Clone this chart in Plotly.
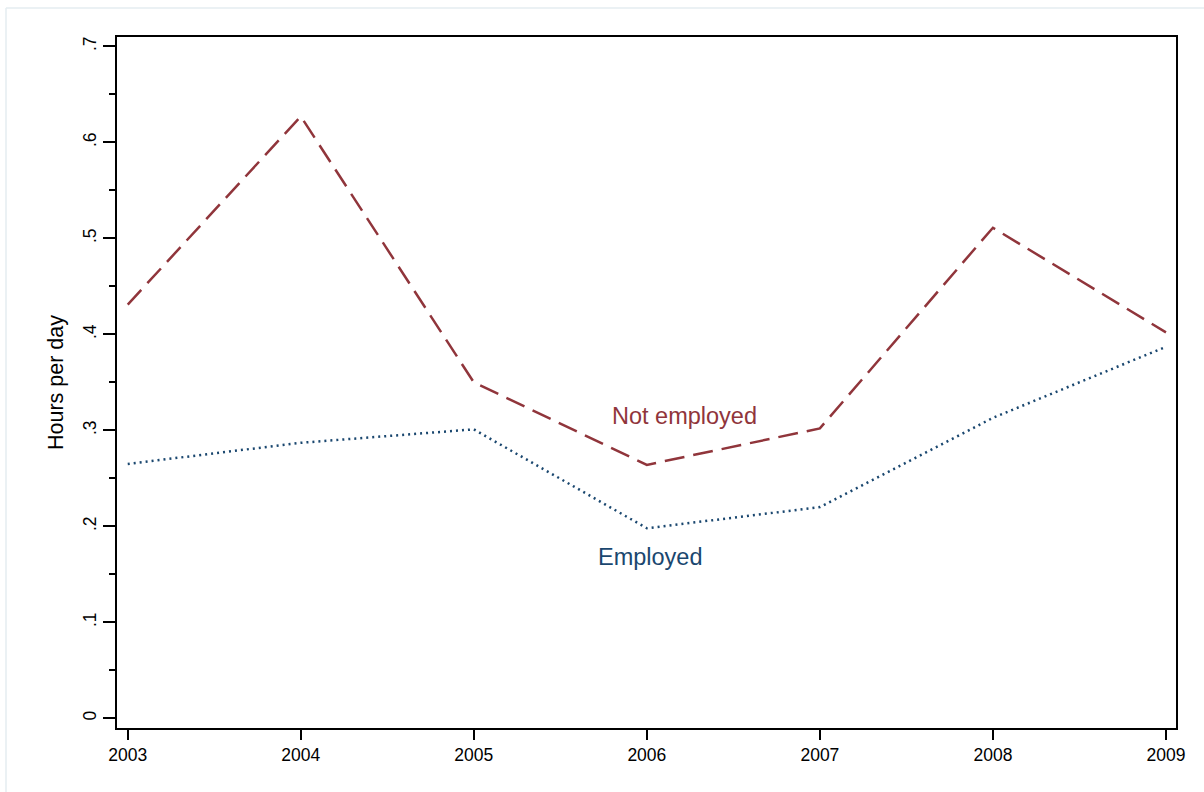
import plotly.graph_objects as go

years = [2003, 2004, 2005, 2006, 2007, 2008, 2009]
not_employed = [0.431, 0.627, 0.350, 0.264, 0.302, 0.511, 0.402]
employed = [0.265, 0.287, 0.301, 0.198, 0.220, 0.313, 0.387]

y_tickvals = [0, 0.1, 0.2, 0.3, 0.4, 0.5, 0.6, 0.7]
y_ticktext = ["0", ".1", ".2", ".3", ".4", ".5", ".6", ".7"]

maroon = "#90353b"
navy = "#1a476f"

fig = go.Figure()
fig.add_trace(go.Scatter(
    x=years, y=not_employed, mode="lines", name="Not employed",
    line=dict(color=maroon, width=2.5, dash="20px,9px"),
))
fig.add_trace(go.Scatter(
    x=years, y=employed, mode="lines", name="Employed",
    line=dict(color=navy, width=2.5, dash="2px,4px"),
))

fig.add_annotation(x=2006.22, y=0.315, text="Not employed", showarrow=False,
                   font=dict(size=23.5, color=maroon))
fig.add_annotation(x=2006.02, y=0.168, text="Employed", showarrow=False,
                   font=dict(size=23.5, color=navy))

# faint outer frame
frame = "#e4edf0"
fig.add_shape(type="line", xref="paper", yref="paper",
              x0=(6 - 117) / 1059, x1=1.1, y0=1 + (37 - 8) / 691, y1=1 + (37 - 8) / 691,
              line=dict(color=frame, width=1.5))
fig.add_shape(type="line", xref="paper", yref="paper",
              x0=(6 - 117) / 1059, x1=(6 - 117) / 1059, y0=-0.2, y1=1 + (37 - 8) / 691,
              line=dict(color=frame, width=1.5))

fig.update_layout(
    width=1204, height=792,
    margin=dict(l=117, r=28, t=37, b=64),
    paper_bgcolor="white", plot_bgcolor="white",
    showlegend=False,
    font=dict(family="Liberation Sans, Arial, sans-serif", color="black"),
)
fig.update_xaxes(
    range=[2002.938, 2009.058], tickvals=years, ticktext=[str(y) for y in years],
    showgrid=False, zeroline=False, showline=True, mirror=True,
    linecolor="black", linewidth=2, ticks="outside", ticklen=10, tickwidth=1.5,
    tickcolor="black", tickfont=dict(size=17.5),
)
fig.update_yaxes(
    range=[-0.0101, 0.7097], tickvals=y_tickvals, ticktext=y_ticktext,
    tickangle=-90, showgrid=False, zeroline=False, showline=True, mirror=True,
    linecolor="black", linewidth=2, ticks="outside", ticklen=12, tickwidth=1.5,
    tickcolor="black", tickfont=dict(size=17.5),
    minor=dict(ticks="outside", ticklen=6, tickwidth=1.5, tickcolor="black",
               dtick=0.05, showgrid=False),
    title=dict(text="Hours per day", font=dict(size=21.5), standoff=10),
)

fig.write_html("out.html")
